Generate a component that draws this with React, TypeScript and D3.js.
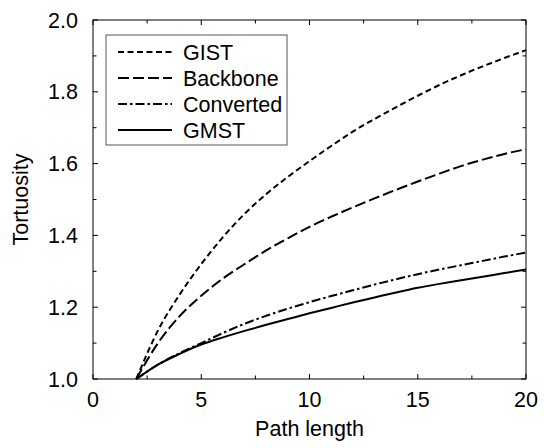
import * as d3 from "d3"

const pathLength = [2, 3, 4, 5, 6, 7, 8, 9, 10, 11, 12, 13, 14, 15, 16, 17, 18, 19, 20]

const gist = [1.0, 1.135, 1.235, 1.32, 1.395, 1.46, 1.515, 1.563, 1.607, 1.649, 1.689, 1.724, 1.757, 1.789, 1.819, 1.846, 1.871, 1.894, 1.916]
const backbone = [1.0, 1.1, 1.175, 1.232, 1.28, 1.32, 1.358, 1.392, 1.424, 1.452, 1.478, 1.503, 1.527, 1.55, 1.572, 1.593, 1.611, 1.627, 1.64]
const converted = [1.0, 1.04, 1.072, 1.1, 1.128, 1.154, 1.176, 1.196, 1.214, 1.231, 1.247, 1.263, 1.278, 1.292, 1.305, 1.317, 1.329, 1.341, 1.352]
const gmst = [1.0, 1.04, 1.07, 1.096, 1.116, 1.134, 1.151, 1.167, 1.183, 1.198, 1.213, 1.227, 1.241, 1.254, 1.265, 1.275, 1.285, 1.295, 1.305]

const xTicks = [0, 5, 10, 15, 20]
const xMinorTicks = [2.5, 7.5, 12.5, 17.5]
const yTicks = [1.0, 1.2, 1.4, 1.6, 1.8, 2.0]
const yMinorTicks = [1.1, 1.3, 1.5, 1.7, 1.9]

const series = [
  { name: "GIST", values: gist, dash: "6,3.5" },
  { name: "Backbone", values: backbone, dash: "11,4" },
  { name: "Converted", values: converted, dash: "9,3,2.5,3" },
  { name: "GMST", values: gmst, dash: "none" },
]

const W = 544
const H = 448
const margin = { top: 20, right: 18, bottom: 69, left: 93 }
const FONT = "'Liberation Sans', Arial, Helvetica, sans-serif"
const FS = 21.5

export default function App() {
  const innerW = W - margin.left - margin.right
  const innerH = H - margin.top - margin.bottom

  const x = d3.scaleLinear().domain([0, 20]).range([0, innerW])
  const y = d3.scaleLinear().domain([1, 2]).range([innerH, 0])

  const line = d3
    .line<number>()
    .x((_, i) => x(pathLength[i]))
    .y((d) => y(d))
    .curve(d3.curveMonotoneX)

  const major = 5
  const minor = 3.5

  return (
    <svg
      width={W}
      height={H}
      style={{ position: "absolute", left: 0, top: 0, background: "#fff" }}
      fontFamily={FONT}
    >
      <g transform={`translate(${margin.left},${margin.top})`}>
        {series.map((s) => (
          <path
            key={s.name}
            d={line(s.values) ?? ""}
            fill="none"
            stroke="#000"
            strokeWidth={2}
            strokeDasharray={s.dash}
          />
        ))}

        <rect x={0} y={0} width={innerW} height={innerH} fill="none" stroke="#000" strokeWidth={1} />

        {xTicks.map((t) => (
          <g key={"x" + t}>
            <line x1={x(t)} x2={x(t)} y1={innerH} y2={innerH - major} stroke="#000" />
            <line x1={x(t)} x2={x(t)} y1={0} y2={major} stroke="#000" />
            <text x={x(t)} y={innerH + 28} textAnchor="middle" fontSize={FS}>
              {t}
            </text>
          </g>
        ))}
        {xMinorTicks.map((t) => (
          <g key={"xm" + t}>
            <line x1={x(t)} x2={x(t)} y1={innerH} y2={innerH - minor} stroke="#000" />
            <line x1={x(t)} x2={x(t)} y1={0} y2={minor} stroke="#000" />
          </g>
        ))}
        {yTicks.map((t) => (
          <g key={"y" + t}>
            <line x1={0} x2={major} y1={y(t)} y2={y(t)} stroke="#000" />
            <line x1={innerW} x2={innerW - major} y1={y(t)} y2={y(t)} stroke="#000" />
            <text x={-15} y={y(t) + 7.5} textAnchor="end" fontSize={FS}>
              {t.toFixed(1)}
            </text>
          </g>
        ))}
        {yMinorTicks.map((t) => (
          <g key={"ym" + t}>
            <line x1={0} x2={minor} y1={y(t)} y2={y(t)} stroke="#000" />
            <line x1={innerW} x2={innerW - minor} y1={y(t)} y2={y(t)} stroke="#000" />
          </g>
        ))}

        <text x={innerW / 2} y={innerH + 57} textAnchor="middle" fontSize={FS}>
          Path length
        </text>
        <text
          transform={`translate(${28 - margin.left},${innerH / 2}) rotate(-90)`}
          textAnchor="middle"
          fontSize={FS}
        >
          Tortuosity
        </text>

        <g transform="translate(13,15)">
          <rect x={0} y={0} width={181} height={110} fill="#fff" stroke="#555" strokeWidth={1} />
          {series.map((s, i) => (
            <g key={"lg" + s.name} transform={`translate(0,${17 + i * 26})`}>
              <line x1={12} x2={66} y1={0} y2={0} stroke="#000" strokeWidth={2} strokeDasharray={s.dash} />
              <text x={77} y={7.5} fontSize={FS}>
                {s.name}
              </text>
            </g>
          ))}
        </g>
      </g>
    </svg>
  )
}
